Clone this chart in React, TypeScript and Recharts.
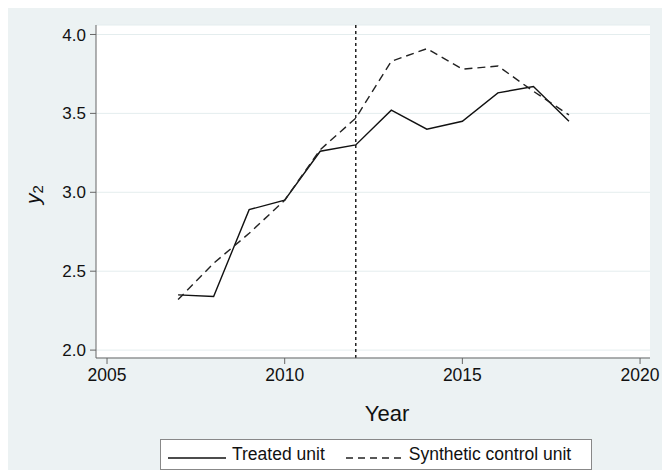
import React from "react";
import { LineChart, Line, XAxis, YAxis, CartesianGrid, ReferenceLine } from "recharts";

const years = [2007, 2008, 2009, 2010, 2011, 2012, 2013, 2014, 2015, 2016, 2017, 2018];
const treated = [2.35, 2.34, 2.89, 2.95, 3.26, 3.3, 3.52, 3.4, 3.45, 3.63, 3.67, 3.45];
const synthetic = [2.32, 2.55, 2.74, 2.95, 3.27, 3.47, 3.83, 3.91, 3.78, 3.8, 3.64, 3.49];
const xTicks = [2005, 2010, 2015, 2020];
const yTicks = [2, 2.5, 3, 3.5, 4];
const treatmentYear = 2012;

const data = years.map((year, i) => ({ year, treated: treated[i], synthetic: synthetic[i] }));

const FONT = "'Liberation Sans', Arial, sans-serif";

const YLabel = ({ viewBox }: any) => {
  const cx = viewBox.x - 4;
  const cy = viewBox.y + viewBox.height / 2 + 3;
  return (
    <text x={cx} y={cy} transform={`rotate(-90 ${cx} ${cy})`} textAnchor="middle" dominantBaseline="central" fontFamily={FONT} fontSize={21} fill="#111">
      <tspan fontStyle="italic">y</tspan>
      <tspan fontSize={15} dy={5}>2</tspan>
    </text>
  );
};

const XLabel = ({ viewBox }: any) => (
  <text x={viewBox.x + viewBox.width / 2 + 14} y={viewBox.y + 55} textAnchor="middle" dominantBaseline="central" fontFamily={FONT} fontSize={22} fill="#111">
    Year
  </text>
);

export default function App() {
  return (
    <div style={{ position: "relative", width: 662, height: 462, background: "#ECF2F3", fontFamily: FONT }}>
      <LineChart width={662} height={462} data={data} margin={{ top: 17, right: 20, left: 28, bottom: 72 }}>
        <CartesianGrid fill="#ffffff" stroke="#E4EDEE" vertical={false} />
        <XAxis
          dataKey="year"
          type="number"
          domain={[2004.69, 2020.28]}
          ticks={xTicks}
          allowDataOverflow
          height={40}
          tickSize={6}
          tickMargin={5}
          stroke="#666"
          tick={{ fontSize: 17.5, fill: "#111", fontFamily: FONT }}
          label={<XLabel />}
        />
        <YAxis
          type="number"
          domain={[1.95, 4.06]}
          ticks={yTicks}
          allowDataOverflow
          width={60}
          tickSize={6}
          tickMargin={4}
          stroke="#666"
          tickFormatter={(v: number) => v.toFixed(1)}
          tick={{ fontSize: 17, fill: "#111", fontFamily: FONT }}
          label={<YLabel />}
        />
        <ReferenceLine x={treatmentYear} stroke="#222" strokeWidth={1.5} strokeDasharray="3 3" />
        <Line dataKey="treated" stroke="#111" strokeWidth={1.4} dot={false} isAnimationActive={false} />
        <Line dataKey="synthetic" stroke="#222" strokeWidth={1.4} strokeDasharray="8 5" dot={false} isAnimationActive={false} />
      </LineChart>
      <div
        style={{
          position: "absolute",
          left: 152,
          top: 431,
          width: 430,
          height: 29,
          background: "#fff",
          border: "1px solid #888",
          display: "flex",
          alignItems: "center",
          fontSize: 17.5,
          color: "#111",
        }}
      >
        <svg width={58} height={12} style={{ marginLeft: 7 }}>
          <line x1={0} y1={9} x2={58} y2={9} stroke="#111" strokeWidth={1.4} />
        </svg>
        <span style={{ marginLeft: 6 }}>Treated unit</span>
        <svg width={56} height={12} style={{ marginLeft: 21 }}>
          <line x1={0} y1={9} x2={56} y2={9} stroke="#222" strokeWidth={1.4} strokeDasharray="7 5" />
        </svg>
        <span style={{ marginLeft: 7 }}>Synthetic control unit</span>
      </div>
    </div>
  );
}
